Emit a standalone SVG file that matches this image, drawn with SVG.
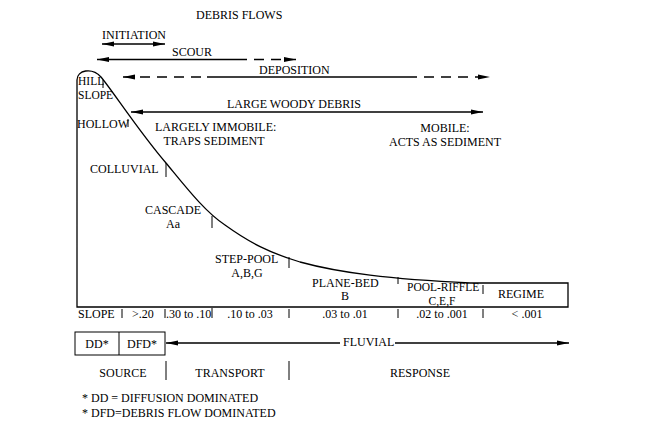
<svg xmlns="http://www.w3.org/2000/svg" width="650" height="427" viewBox="0 0 650 427" font-family="'Liberation Serif','Times New Roman',serif">
<defs>
<marker id="ah" viewBox="0 0 12 6" refX="12" refY="3" markerWidth="12" markerHeight="6" markerUnits="userSpaceOnUse" orient="auto-start-reverse">
<path d="M0,0.6 L12,3 L0,5.4 Z" fill="#000"/>
</marker>
<style>
text{font-family:"Liberation Serif","Times New Roman",serif;font-size:12px;fill:#000}
.m{text-anchor:middle}
.s{font-size:11.5px}
.l{stroke:#000;stroke-width:1.3;fill:none}
.t{stroke:#000;stroke-width:1;fill:none}
.d{stroke-dasharray:10,7}
</style>
</defs>
<rect width="650" height="427" fill="#fff"/>
<g id="profile">
<path class="l" d="M77,307 V80 C77,70 92,67 101,77 C112,90 140,133 166,163 C185,186 205,212 225,225 C250,243 270,253 300,262 C340,273 390,279 470,283 H568 V307 Z"/>
</g>
<g id="connectors">
<line class="l" x1="102" y1="44" x2="165" y2="44" marker-start="url(#ah)" marker-end="url(#ah)"/>
<line class="l" x1="97" y1="59.5" x2="237" y2="59.5" marker-start="url(#ah)"/>
<line class="l d" x1="237" y1="59.5" x2="296" y2="59.5" marker-end="url(#ah)"/>
<line class="l d" x1="123" y1="77" x2="207" y2="77" marker-start="url(#ah)"/>
<line class="l" x1="207" y1="77" x2="407" y2="77"/>
<line class="l d" x1="407" y1="77" x2="490" y2="77" marker-end="url(#ah)"/>
<line class="l" x1="131" y1="112" x2="483" y2="112" marker-start="url(#ah)" marker-end="url(#ah)"/>
<line class="l" x1="166" y1="343" x2="340" y2="343" marker-start="url(#ah)"/>
<line class="l" x1="395" y1="343" x2="569" y2="343" marker-end="url(#ah)"/>
</g>
<g id="ticks">
<path class="t" d="M103,80 V88 M128,119 V127 M166,163 V177 M212,216 V228 M289,257 V268 M398,277 V284 M483,285 V294"/>
<path class="t" d="M122,309 V318 M165,309 V318 M212,308 V318 M289,309 V318 M398,309 V318 M483,309 V318"/>
<path class="t" d="M166,361 V380 M289,361 V380"/>
</g>
<g id="title"><text x="196" y="19">DEBRIS FLOWS</text></g>
<g id="initiation"><text x="102" y="39">INITIATION</text></g>
<g id="scour"><text x="172" y="56">SCOUR</text></g>
<g id="deposition"><text x="259" y="74">DEPOSITION</text></g>
<g id="lwd"><text x="227" y="108">LARGE WOODY DEBRIS</text></g>
<g id="hillslope"><text class="s" x="78" y="85">HILL</text><text class="s" x="78" y="98.5">SLOPE</text></g>
<g id="hollow"><text x="77" y="128">HOLLOW</text></g>
<g id="immobile"><text x="155" y="131">LARGELY IMMOBILE:</text><text class="m" x="214" y="145">TRAPS SEDIMENT</text></g>
<g id="mobile"><text class="m" x="445" y="132">MOBILE:</text><text class="m" x="445" y="146">ACTS AS SEDIMENT</text></g>
<g id="colluvial"><text x="90" y="173">COLLUVIAL</text></g>
<g id="cascade"><text x="145" y="214">CASCADE</text><text class="m" x="173" y="228">Aa</text></g>
<g id="steppool"><text x="215" y="263">STEP-POOL</text><text class="m" x="247" y="277">A,B,G</text></g>
<g id="planebed"><text x="312" y="287">PLANE-BED</text><text class="m" x="345" y="300">B</text></g>
<g id="poolriffle"><text class="s" x="407" y="291">POOL-RIFFLE</text><text class="s m" x="442" y="305">C,E,F</text></g>
<g id="regime"><text x="498" y="298">REGIME</text></g>
<g id="slope-row">
<text x="78" y="318">SLOPE</text>
<text x="132" y="318">&gt;.20</text>
<text x="166" y="318">.30 to .10</text>
<text class="m" x="250" y="318">.10 to .03</text>
<text class="m" x="345" y="318">.03 to .01</text>
<text class="m" x="442" y="318">.02 to .001</text>
<text class="m" x="527" y="318">&lt; .001</text>
</g>
<g id="dd-box">
<rect class="t" x="75" y="332" width="90" height="23"/>
<line class="t" x1="119" y1="332" x2="119" y2="355"/>
<text class="m" x="97" y="348">DD*</text>
<text class="m" x="142" y="348">DFD*</text>
</g>
<g id="fluvial"><text x="343" y="346">FLUVIAL</text></g>
<g id="zones">
<text class="m" x="123" y="377">SOURCE</text>
<text class="m" x="230" y="377">TRANSPORT</text>
<text class="m" x="420" y="377">RESPONSE</text>
</g>
<g id="notes">
<text x="82" y="402">*  DD = DIFFUSION DOMINATED</text>
<text x="82" y="417">* DFD=DEBRIS FLOW DOMINATED</text>
</g>
</svg>
